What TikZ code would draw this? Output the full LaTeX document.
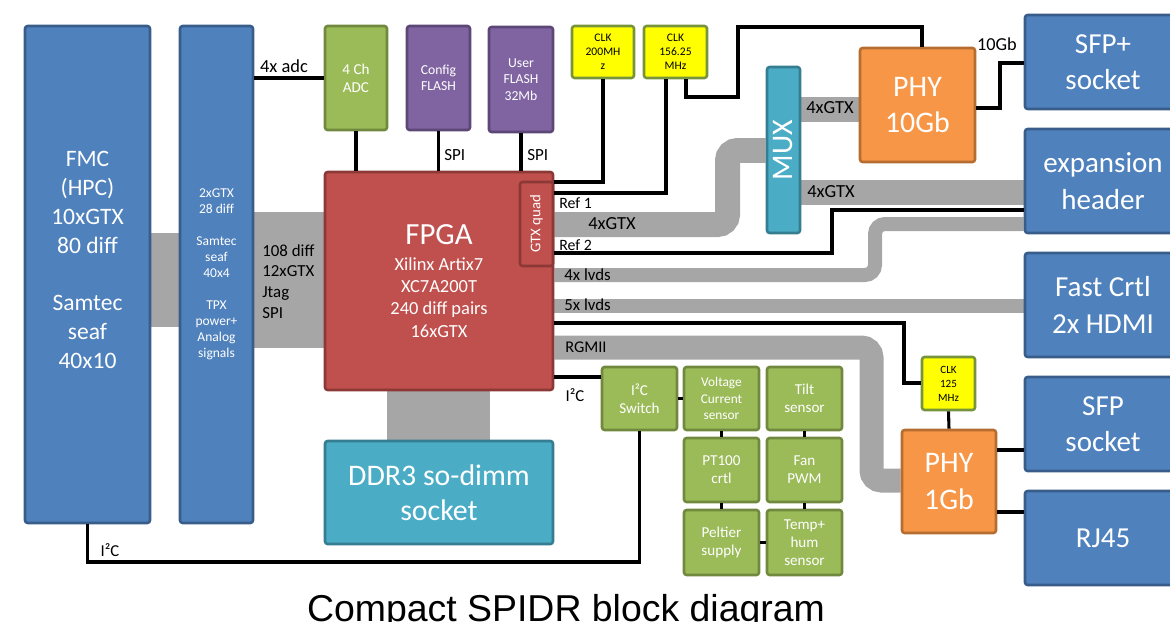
\documentclass[tikz,border=0pt]{standalone}
\usepackage{fontspec}
\setmainfont{Carlito}
\newfontfamily\titlefont{Liberation Sans}
\usetikzlibrary{calc}
\pgfdeclarelayer{bg}
\pgfsetlayers{bg,main}
\definecolor{cblue}{HTML}{4F81BD}
\definecolor{cblueD}{HTML}{385D8A}
\definecolor{cgreen}{HTML}{9BBB59}
\definecolor{cgreenD}{HTML}{71893F}
\definecolor{cpurple}{HTML}{8064A2}
\definecolor{cpurpleD}{HTML}{5C4776}
\definecolor{cred}{HTML}{C0504D}
\definecolor{credD}{HTML}{8C3836}
\definecolor{caqua}{HTML}{4BACC6}
\definecolor{caquaD}{HTML}{357D91}
\definecolor{corange}{HTML}{F79646}
\definecolor{corangeD}{HTML}{B66D31}
\definecolor{cyellow}{HTML}{FFFF00}
\definecolor{cyellowD}{HTML}{77933C}
\definecolor{cband}{HTML}{A6A6A6}
\newcommand\myfs[2]{\fontsize{#1}{#2}\selectfont}
\begin{document}
\begin{tikzpicture}[x=0.02cm,y=-0.02cm,
  blk/.style={draw, line width=1.5pt, rounded corners=1.5pt, inner sep=0pt, align=center, text=white},
  bluebox/.style={blk, fill=cblue, draw=cblueD},
  greenbox/.style={blk, fill=cgreen, draw=cgreenD},
  purplebox/.style={blk, fill=cpurple, draw=cpurpleD},
  redbox/.style={blk, fill=cred, draw=credD},
  aquabox/.style={blk, fill=caqua, draw=caquaD},
  orangebox/.style={blk, fill=corange, draw=corangeD},
  clkbox/.style={blk, fill=cyellow, draw=cyellowD, text=black, font=\myfs{6.6}{8}},
  sensorbox/.style={greenbox, minimum width=1.5cm, font=\myfs{8.6}{10.2}},
  rightbox/.style={bluebox, minimum width=3.12cm, font=\myfs{16.5}{20.8}},
  wire/.style={line width=1.75pt, black},
  band/.style={draw=cband, line width=#1, rounded corners=0.2cm},
  lbl/.style={inner sep=0pt, text=black, align=left}
]
\useasboundingbox (0,0) rectangle (1170,622);
\clip (0,0) rectangle (1170,622);

% left connectors
\node[bluebox, minimum width=2.5cm, minimum height=9.94cm, font=\myfs{13.4}{16.4}] (FMC) at (87.5,274.5)
  {FMC\\(HPC)\\10xGTX\\80 diff\\~\\Samtec\\seaf\\40x10\\~};
\node[bluebox, minimum width=1.46cm, minimum height=9.94cm, font=\myfs{7.7}{9.1}] (Conn) at (216.5,274.5)
  {2xGTX\\28 diff\\~\\Samtec\\seaf\\40x4\\~\\TPX\\power+\\Analog\\signals};

% top row
\node[greenbox, minimum width=1.24cm, minimum height=2.08cm, font=\myfs{8.6}{10.4}] (ADC) at (356,78) {4 Ch\\ADC};
\node[purplebox, minimum width=1.26cm, minimum height=2.08cm, font=\myfs{7.8}{9.4}] (Config) at (438.5,78) {Config\\FLASH};
\node[purplebox, minimum width=1.28cm, minimum height=2.1cm, font=\myfs{7.8}{9.4}] (User) at (521,79.5) {User\\FLASH\\32Mb};
\node[clkbox, minimum width=1.24cm, minimum height=1.04cm] (CLKa) at (603,52) {CLK\\200MH\\z};
\node[clkbox, minimum width=1.26cm, minimum height=1.04cm] (CLKb) at (675.5,52) {CLK\\156.25\\MHz};

% FPGA
\node[redbox, minimum width=4.56cm, minimum height=4.36cm, font=\myfs{10.5}{12.7}] (FPGA) at (439,281)
  {{\myfs{17.5}{21}FPGA}\\[2pt]Xilinx Artix7\\XC7A200T\\240 diff pairs\\16xGTX};
\node[redbox, minimum width=0.66cm, minimum height=1.68cm, font=\myfs{8.4}{10}] (GTXq) at (536.5,224) {};
\node[rotate=90, text=white, inner sep=0pt, font=\myfs{8.4}{10}] (GTXqt) at (GTXq.center) {GTX quad};
\node[aquabox, minimum width=4.56cm, minimum height=2.06cm, font=\myfs{17}{20}] (DDR) at (439,492.5) {DDR3 so-dimm\\socket};

% MUX and PHYs
\node[aquabox, minimum width=0.66cm, minimum height=3.32cm] (MUX) at (783.5,150) {};
\node[rotate=90, text=white, inner sep=0pt, font=\myfs{17}{20}] (MUXt) at (MUX.center) {MUX};
\node[orangebox, minimum width=2.3cm, minimum height=2.28cm, font=\myfs{17}{21}] (PHYa) at (917.5,105) {PHY\\10Gb};
\node[clkbox, minimum width=1.06cm, minimum height=1.06cm, font=\myfs{6.3}{8}] (CLKc) at (948.5,383.5) {CLK\\125\\MHz};
\node[orangebox, minimum width=1.88cm, minimum height=2.06cm, font=\myfs{17}{21}] (PHYb) at (949,481.5) {PHY\\1Gb};

% right connectors
\node[rightbox, minimum height=1.88cm] (SFPp) at (1103,62) {SFP+\\socket};
\node[rightbox, minimum height=2.08cm] (Exp) at (1103,181) {expansion\\header};
\node[rightbox, minimum height=2.08cm] (Fast) at (1103,305) {Fast Crtl\\2x HDMI};
\node[rightbox, minimum height=1.88cm] (SFP) at (1103,424) {SFP\\socket};
\node[rightbox, minimum height=1.88cm] (RJ) at (1103,538) {RJ45};

% sensors
\node[sensorbox, minimum height=1.26cm] (Sw) at (639.5,398.5) {I²C\\Switch};
\node[sensorbox, minimum height=1.26cm, font=\myfs{7.6}{9.4}] (Volt) at (721.5,398.5) {Voltage\\Current\\sensor};
\node[sensorbox, minimum height=1.26cm] (Tilt) at (804.5,398.5) {Tilt\\sensor};
\node[sensorbox, minimum height=1.28cm] (PT) at (721.5,470) {PT100\\crtl};
\node[sensorbox, minimum height=1.28cm] (Fan) at (804.5,470) {Fan\\PWM};
\node[sensorbox, minimum height=1.3cm] (Pelt) at (721.5,542.5) {Peltier\\supply};
\node[sensorbox, minimum height=1.3cm] (Temp) at (804.5,542.5) {Temp+\\hum\\sensor};

% grey buses
\begin{pgfonlayer}{bg}
\fill[cband] (FMC.east |- 0,233) rectangle (Conn.west |- 0,327);
\fill[cband] (Conn.east |- 0,212) rectangle (FPGA.west |- 0,348);
\fill[cband] (387,0 |- FPGA.south) rectangle (490,0 |- DDR.north);
\draw[band=0.5cm] (GTXq.east |- 0,224.5) -- (727.5,224.5) -- (727.5,150.5) -- (MUX.west |- 0,150.5);
\draw[band=0.5cm] (MUX.east |- 0,109.5) -- (PHYa.west |- 0,109.5);
\draw[band=0.5cm] (MUX.east |- 0,192.5) -- (Exp.west |- 0,192.5);
\draw[band=0.28cm] (FPGA.east |- 0,275) -- (875,275) -- (875,224) -- (Exp.west |- 0,224);
\draw[band=0.28cm] (FPGA.east |- 0,306) -- (Fast.west |- 0,306);
\draw[band=0.48cm] (FPGA.east |- 0,347.5) -- (871.5,347.5) -- (871.5,480.5) -- (PHYb.west |- 0,480.5);
\end{pgfonlayer}

% wires
\draw[wire] (ADC.west) -- (ADC.west -| Conn.east);
\draw[wire] (ADC.south) -- (ADC.south |- FPGA.north);
\draw[wire] (Config.south) -- (Config.south |- FPGA.north);
\draw[wire] (User.south) -- (User.south |- FPGA.north);
\draw[wire] (CLKa.south) |- (FPGA.east |- 0,182);
\draw[wire] (666,0 |- CLKb.south) |- (GTXq.east |- 0,193);
\draw[wire] (686,0 |- CLKb.south) |- (738,97) |- (922,27) -- (922,0 |- PHYa.north);
\draw[wire] (GTXq.east |- 0,253) -| (832,210) -- (Exp.west |- 0,210);
\draw[wire] (FPGA.east |- 0,323) -| (904,383) -- (CLKc.west |- 0,383);
\draw[wire] (CLKc.south) -- (PHYb.north);
\draw[wire] (PHYa.east |- 0,108) -| (1000,63) -- (SFPp.west |- 0,63);
\draw[wire] (PHYb.east |- 0,450) -- (SFP.west |- 0,450);
\draw[wire] (PHYb.east |- 0,512) -- (RJ.west |- 0,512);
\draw[wire] (FPGA.east |- 0,377) -- (Sw.west |- 0,377);
\draw[wire] (Sw.east) -- (Volt.west);
\draw[wire] (Volt.south) -- (PT.north);
\draw[wire] (PT.south) -- (Pelt.north);
\draw[wire] (Tilt.south) -- (Fan.north);
\draw[wire] (Fan.south) -- (Temp.north);
\draw[wire] (Pelt.east) -- (Temp.west);
\draw[wire] (Sw.south) |- (FMC.south |- 0,562) -- (FMC.south);

% labels
\node[lbl, font=\myfs{10.5}{12.6}] (lAdc) at (284,66) {4x adc};
\node[lbl, anchor=west, font=\myfs{9.6}{11.8}] (lBus) at (262,281.5) {108 diff\\12xGTX\\Jtag\\SPI};
\node[lbl, anchor=west, font=\myfs{9.7}{11.6}] (lSpiA) at (444,155) {SPI};
\node[lbl, anchor=west, font=\myfs{9.7}{11.6}] (lSpiB) at (527,155) {SPI};
\node[lbl, anchor=west, font=\myfs{9}{11}] (lRefA) at (559,203) {Ref 1};
\node[lbl, font=\myfs{10.5}{12.6}] (lGtxA) at (612,224) {4xGTX};
\node[lbl, anchor=west, font=\myfs{9}{11}] (lRefB) at (559,245) {Ref 2};
\node[lbl, anchor=west, font=\myfs{9.6}{11.6}] (lLvdsA) at (564,275) {4x lvds};
\node[lbl, anchor=west, font=\myfs{9.6}{11.6}] (lLvdsB) at (564,305) {5x lvds};
\node[lbl, anchor=west, font=\myfs{9.3}{11.2}] (lRgmii) at (565,347) {RGMII};
\node[lbl, font=\myfs{9.5}{11.4}] (lIicA) at (575,395) {I²C};
\node[lbl, font=\myfs{10.5}{12.6}] (lGtxB) at (830,108) {4xGTX};
\node[lbl, font=\myfs{10.5}{12.6}] (lGtxC) at (831,192) {4xGTX};
\node[lbl, font=\myfs{10.4}{12.4}] (lTen) at (997,44) {10Gb};
\node[lbl, font=\myfs{9.5}{11.4}] (lIicB) at (110,550) {I²C};
\node[inner sep=0pt, anchor=base, font=\titlefont\myfs{21.3}{25}] (title) at (566,621) {Compact SPIDR block diagram};
\end{tikzpicture}
\end{document}
